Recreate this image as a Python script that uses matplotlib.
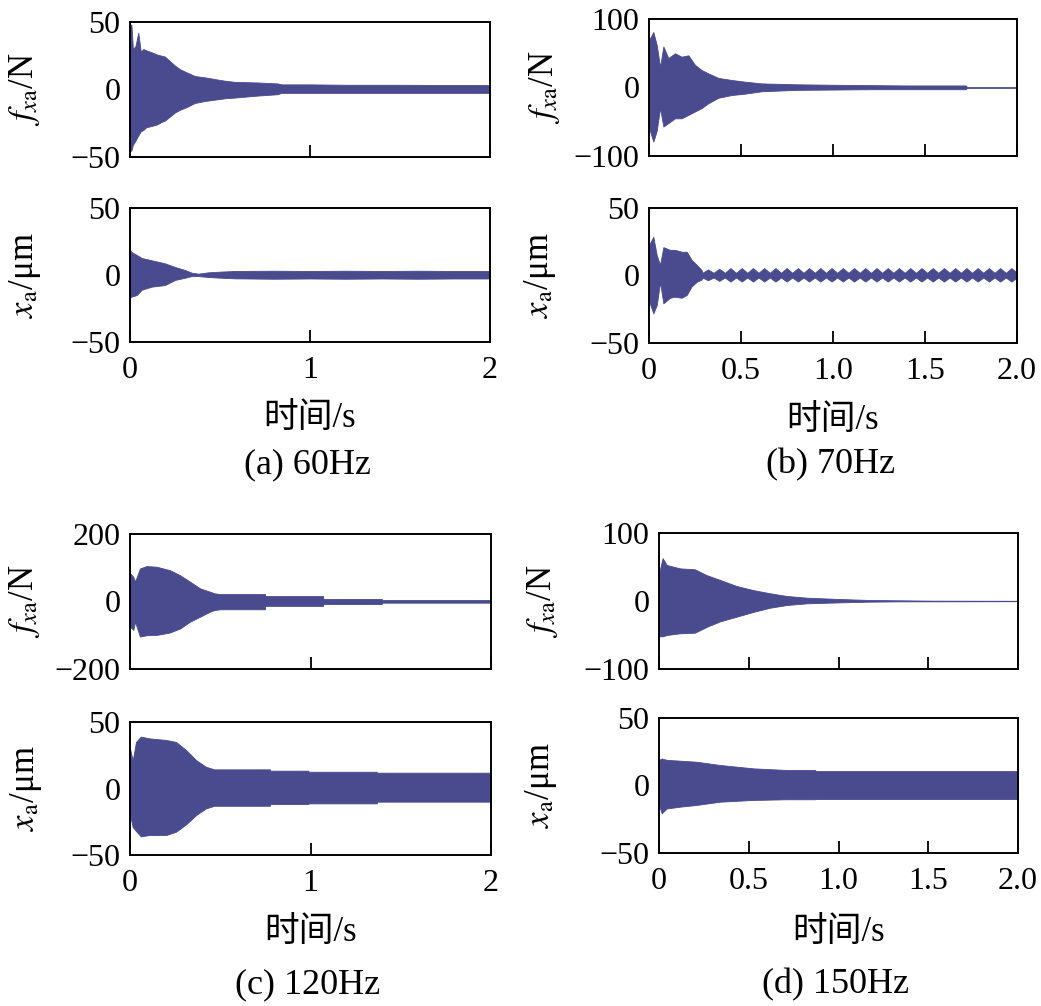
import matplotlib
matplotlib.use("Agg")
import matplotlib.pyplot as plt
import numpy as np

# envelope readings (time in s, upper / lower bound of the dense signal)
t_a_f = [0, 0.008, 0.016, 0.03, 0.046, 0.06, 0.074, 0.09, 0.12, 0.148, 0.176, 0.194,
         0.222, 0.25, 0.278, 0.315, 0.36, 0.417, 0.472, 0.528, 0.58, 0.71, 0.82, 0.84,
         1.0, 1.2, 1.5, 1.8, 2.0]
hi_a_f = [48, 48, 30, 32, 42, 28, 30, 29, 27.6, 26, 25, 24.4, 21, 17.7, 15, 12.7, 10, 9,
          7.7, 6.5, 5.7, 5.2, 4.5, 3.8, 3.8, 3.5, 3.5, 3.3, 3.3]
lo_a_f = [-46, -45, -41, -38, -34, -31, -30, -28, -27, -26, -24, -23, -20, -17, -15, -13,
          -10, -8.5, -7.5, -6.5, -6, -4.5, -3.5, -2.5, -2.5, -2.5, -2.5, -2.5, -2.5]

t_a_x = [0, 0.01, 0.037, 0.065, 0.12, 0.194, 0.25, 0.306, 0.343, 0.38, 0.435, 0.5, 0.583,
         0.8, 1.0, 1.2, 1.4, 1.6, 1.8, 2.0]
hi_a_x = [18.6, 17, 15, 12.7, 11, 8.7, 6, 3.7, 1.7, 1.0, 2.0, 2.5, 3.0, 3.2, 3.0, 3.2,
          3.0, 3.2, 3.0, 3.0]
lo_a_x = [-17, -16, -15, -11, -8.7, -7.5, -3.7, -2, -0.8, -0.8, -1.5, -2.0, -2.5, -2.8,
          -2.6, -2.8, -2.6, -2.8, -2.6, -2.6]

t_b_f = [0, 0.0235, 0.042, 0.06, 0.078, 0.105, 0.141, 0.177, 0.214, 0.25, 0.286, 0.322,
         0.377, 0.449, 0.522, 0.612, 0.8, 1.0, 1.2, 1.4, 1.6, 1.72, 1.73, 2.0]
hi_b_f = [69, 81, 62, 30, 60, 43, 50, 45, 47, 33, 25.5, 20.7, 14, 11, 8.5, 6, 4.7, 4,
          3.5, 3, 3, 3, 0.5, 0.5]
lo_b_f = [-59, -79, -63, -30, -57, -52, -45, -45, -40, -35, -30, -23, -15, -11, -9, -5.5,
          -3.5, -3, -2.5, -2.5, -2.5, -2.5, -0.5, -0.5]

t_b_x0 = [0, 0.0235, 0.042, 0.06, 0.078, 0.114, 0.141, 0.177, 0.205, 0.232, 0.26, 0.286]
hi_b_x0 = [22.6, 28.7, 15, 8, 21, 19, 19, 17.6, 17.6, 11.5, 7.8, 4]
lo_b_x0 = [-19, -28, -22, -5, -20.6, -16.5, -15.7, -16.5, -14.4, -8, -4.6, -3]
# beat pattern after 0.29 s: node / bulge pairs
t_b_x1 = np.linspace(0.29, 2.0, 57)
hi_b_x1 = [2.0, 4.5, 2.0, 5.0, 2.0, 5.5, 2.0, 5.5, 2.0, 5.5, 2.0, 5.5, 2.0, 5.5, 2.0,
           5.5, 2.0, 5.5, 2.0, 5.5, 2.0, 5.5, 2.0, 5.5, 2.0, 5.5, 2.0, 5.5, 2.0, 5.5,
           2.0, 5.5, 2.0, 5.5, 2.0, 5.5, 2.0, 5.5, 2.0, 5.5, 2.0, 5.5, 2.0, 5.5, 2.0,
           5.5, 2.0, 5.5, 2.0, 5.5, 2.0, 5.5, 2.0, 5.5, 2.0, 5.5, 2.0]
lo_b_x1 = [-1.5, -3.5, -1.5, -4.0, -1.5, -4.5, -1.5, -4.5, -1.5, -4.5, -1.5, -4.5, -1.5,
           -4.5, -1.5, -4.5, -1.5, -4.5, -1.5, -4.5, -1.5, -4.5, -1.5, -4.5, -1.5, -4.5,
           -1.5, -4.5, -1.5, -4.5, -1.5, -4.5, -1.5, -4.5, -1.5, -4.5, -1.5, -4.5, -1.5,
           -4.5, -1.5, -4.5, -1.5, -4.5, -1.5, -4.5, -1.5, -4.5, -1.5, -4.5, -1.5, -4.5,
           -1.5, -4.5, -1.5, -4.5, -1.5]

t_c_f = [0, 0.0185, 0.028, 0.055, 0.092, 0.148, 0.22, 0.277, 0.332, 0.388, 0.443, 0.471,
         0.5, 0.748, 0.749, 1.07, 1.071, 1.395, 1.396, 2.0]
hi_c_f = [84, 73, 59, 98, 105, 103, 93, 78, 59, 39, 29, 24, 22, 22, 16, 16, 7.4, 7.4, 4.5, 4.5]
lo_c_f = [-75, -84, -60, -104, -100, -99, -92, -80, -60, -45, -30, -25, -23, -23, -13, -13,
          -7.4, -7.4, -3.5, -3.5]

t_c_x = [0, 0.015, 0.033, 0.06, 0.107, 0.2, 0.255, 0.31, 0.366, 0.42, 0.467, 0.775, 0.776,
         0.988, 0.989, 1.367, 1.368, 2.0]
hi_c_x = [30, 21, 35, 39, 37.7, 36.5, 35, 29, 21.4, 16.4, 14.4, 14.4, 13.4, 13.4, 12.6,
          12.6, 11.9, 11.9]
lo_c_x = [-20, -29, -32, -36, -35, -35, -32.5, -27, -20, -15, -13, -13, -11.7, -11.7,
          -11.2, -11.2, -9.9, -9.9]

t_d_f = [0, 0.02, 0.043, 0.117, 0.2, 0.266, 0.34, 0.433, 0.526, 0.62, 0.712, 0.824, 1.01,
         1.17, 1.35, 1.53, 2.0]
hi_d_f = [40.7, 63, 53, 48, 46.6, 38, 31, 22, 16, 11.3, 7.4, 4.9, 2.9, 1.5, 1.0, 0.5, 0.3]
lo_d_f = [-52, -52, -50, -47.5, -46.6, -38, -30, -23, -16, -9.8, -5.9, -3.4, -2, -1, -0.5,
          -0.5, -0.3]

t_d_x = [0, 0.015, 0.043, 0.117, 0.21, 0.34, 0.526, 0.712, 0.87, 0.871, 2.0]
hi_d_x = [19, 20, 19, 18.4, 17.6, 15.2, 12.7, 11.5, 11.5, 10.7, 10.7]
lo_d_x = [-14.4, -20.6, -17, -15.7, -14.4, -12, -10.7, -10.2, -10.2, -10, -10]

captions = ["(a) 60Hz", "(b) 70Hz", "(c) 120Hz", "(d) 150Hz"]
f_lims = [50, 100, 200, 100]
x_lim = 50
x_ticks_ac = [0, 1, 2]
x_ticks_bd = [0, 0.5, 1.0, 1.5, 2.0]
x_ticklabels_bd = ["0", "0.5", "1.0", "1.5", "2.0"]

color = "#4a4a8e"
W, H = 1041, 1006

plt.rcParams['font.family'] = ['Liberation Serif', 'Noto Sans CJK SC']
plt.rcParams['mathtext.fontset'] = 'stix'
plt.rcParams['font.size'] = 22
plt.rcParams['axes.linewidth'] = 1.4
plt.rcParams['axes.unicode_minus'] = True

fig = plt.figure(figsize=(W / 100, H / 100), dpi=100)


def px_axes(l, r, t, b):
    return fig.add_axes([l / W, (H - b) / H, (r - l) / W, (b - t) / H])


def style(ax, lim, xticks, xlabels, show_x):
    ax.set_xlim(0, 2)
    ax.set_ylim(-lim, lim)
    ax.set_yticks([-lim, 0, lim])
    ax.set_xticks(xticks)
    if show_x:
        ax.set_xticklabels(xlabels)
    else:
        ax.set_xticklabels([])
    ax.tick_params(axis='x', direction='in', length=9, width=1.3, pad=10, labelsize=23)
    ax.tick_params(axis='y', length=0, pad=7, labelsize=23)


panels = [
    # (left, right, top_f, bot_f, top_x, bot_x)
    (130, 490, 22, 157, 208, 342),
    (649, 1017, 19, 156, 208, 343),
    (130, 491, 534, 669, 722, 855),
    (659, 1018, 533, 669, 718, 853),
]
force = [(t_a_f, lo_a_f, hi_a_f), (t_b_f, lo_b_f, hi_b_f),
         (t_c_f, lo_c_f, hi_c_f), (t_d_f, lo_d_f, hi_d_f)]
disp = [(t_a_x, lo_a_x, hi_a_x),
        (list(t_b_x0) + list(t_b_x1), lo_b_x0 + lo_b_x1, hi_b_x0 + hi_b_x1),
        (t_c_x, lo_c_x, hi_c_x), (t_d_x, lo_d_x, hi_d_x)]
f_label_x = [25, 545, 25, 543]
x_label_x = [25, 540, 26, 541]
xlab_y = [419, 420, 932, 932]
cap_y = [465, 465, 985, 985]

for i, (l, r, tf, bf, tx, bx) in enumerate(panels):
    if i % 2 == 0:
        xt, xl = x_ticks_ac, [str(v) for v in x_ticks_ac]
    else:
        xt, xl = x_ticks_bd, x_ticklabels_bd

    ax1 = px_axes(l, r, tf, bf)
    t, lo, hi = force[i]
    ax1.fill_between(t, lo, hi, color=color, linewidth=0.6, edgecolor=color)
    style(ax1, f_lims[i], xt, xl, False)

    ax2 = px_axes(l, r, tx, bx)
    t, lo, hi = disp[i]
    ax2.fill_between(t, lo, hi, color=color, linewidth=0.6, edgecolor=color)
    style(ax2, x_lim, xt, xl, True)

    fig.text(f_label_x[i] / W, 1 - (tf + bf) / 2 / H, r'$f_{x\mathrm{a}}$/N',
             rotation=90, ha='center', va='center', fontsize=25)
    fig.text(x_label_x[i] / W, 1 - (tx + bx) / 2 / H, r'$x_{\mathrm{a}}$/μm',
             rotation=90, ha='center', va='center', fontsize=25)
    cx = (l + r) / 2 / W
    fig.text(cx, 1 - xlab_y[i] / H, "时间/s", ha='center', va='center', fontsize=25)
    fig.text(cx - 3 / W, 1 - cap_y[i] / H, captions[i], ha='center', va='center', fontsize=26)

fig.savefig("out.png", dpi=100)
